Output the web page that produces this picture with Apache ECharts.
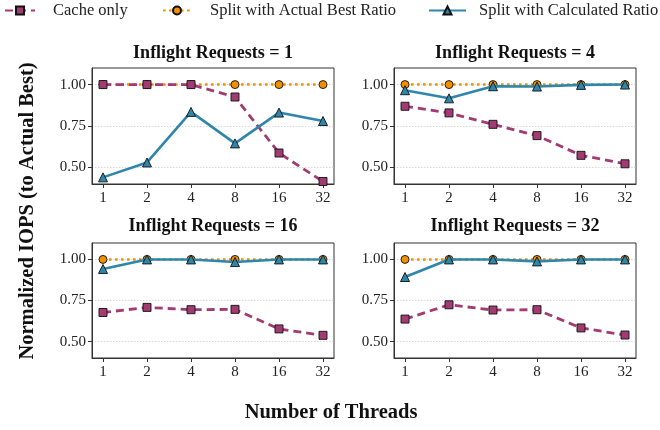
<!DOCTYPE html>
<html>
<head>
<meta charset="utf-8">
<script src="https://cdn.jsdelivr.net/npm/echarts@6/dist/echarts.min.js"></script>
<style>html,body{margin:0;padding:0;background:#fff}#c{width:660px;height:430px}</style>
</head>
<body>
<div id="c"></div>
<script>
var threads = ['1', '2', '4', '8', '16', '32'];
var yTicks = [0.5, 0.75, 1.0];
var panelTitles = ['Inflight Requests = 1', 'Inflight Requests = 4', 'Inflight Requests = 16', 'Inflight Requests = 32'];
var seriesNames = ['Cache only', 'Split with Actual Best Ratio', 'Split with Calculated Ratio'];

var cacheIR1  = [1.0, 1.0, 1.0, 0.925, 0.587, 0.415];
var actualIR1 = [1.0, 1.0, 1.0, 1.0, 1.0, 1.0];
var calcIR1   = [0.44, 0.53, 0.835, 0.645, 0.831, 0.78];

var cacheIR4  = [0.869, 0.829, 0.760, 0.692, 0.573, 0.522];
var actualIR4 = [1.0, 1.0, 1.0, 1.0, 1.0, 1.0];
var calcIR4   = [0.966, 0.917, 0.99, 0.988, 0.998, 1.0];

var cacheIR16  = [0.677, 0.708, 0.694, 0.696, 0.577, 0.538];
var actualIR16 = [1.0, 1.0, 1.0, 1.0, 1.0, 1.0];
var calcIR16   = [0.942, 1.0, 1.0, 0.984, 1.0, 1.0];

var cacheIR32  = [0.637, 0.724, 0.692, 0.694, 0.583, 0.540];
var actualIR32 = [1.0, 1.0, 1.0, 1.0, 1.0, 1.0];
var calcIR32   = [0.893, 1.0, 1.0, 0.988, 1.0, 1.0];

var panels = [
  [cacheIR1, actualIR1, calcIR1],
  [cacheIR4, actualIR4, calcIR4],
  [cacheIR16, actualIR16, calcIR16],
  [cacheIR32, actualIR32, calcIR32]
];

var FONT = '"Liberation Serif", "Times New Roman", serif';
var colors = ['#A23B72', '#F18F01', '#2E86AB'];
var grids = [
  {left: 92, top: 68, width: 242, height: 116},
  {left: 394, top: 68, width: 242, height: 116},
  {left: 92, top: 243, width: 242, height: 115},
  {left: 394, top: 243, width: 242, height: 115}
];
var titleY = [44, 44, 217, 217];

function pairs(arr) { return arr.map(function (v, i) { return [i, v]; }); }

var option = {
  backgroundColor: '#fff',
  animation: false,
  textStyle: {fontFamily: FONT},
  title: [],
  grid: [],
  xAxis: [],
  yAxis: [],
  series: [],
  legend: []
};

grids.forEach(function (g, p) {
  option.grid.push({left: g.left, top: g.top, width: g.width, height: g.height, show: true, borderColor: '#333', borderWidth: 1, backgroundColor: 'transparent'});
  option.title.push({
    text: panelTitles[p], left: g.left + g.width / 2, top: titleY[p], textAlign: 'center', padding: 0,
    textStyle: {fontFamily: FONT, fontWeight: 'bold', fontSize: 18, color: '#111'}
  });
  option.xAxis.push({
    type: 'value', gridIndex: p, min: -0.25, max: 5.25,
    axisLine: {show: true, onZero: false, lineStyle: {color: '#333', width: 1}},
    axisTick: {show: true, customValues: [0, 1, 2, 3, 4, 5], length: 4, lineStyle: {color: '#333'}},
    axisLabel: {customValues: [0, 1, 2, 3, 4, 5], formatter: function (v) { return threads[Math.round(v)]; }, fontFamily: FONT, fontSize: 15, color: '#222', margin: 7},
    splitLine: {show: false}
  });
  option.yAxis.push({
    type: 'value', gridIndex: p, min: 0.4, max: 1.1,
    axisLine: {show: true, onZero: false, lineStyle: {color: '#333', width: 1}},
    axisTick: {show: true, customValues: yTicks, length: 4, lineStyle: {color: '#333'}},
    axisLabel: {customValues: yTicks, formatter: function (v) { return v.toFixed(2); }, fontFamily: FONT, fontSize: 15, color: '#222', margin: 6},
    splitLine: {show: true, lineStyle: {color: '#cfcfcf', type: [1.5, 1.5], width: 0.8}}
  });
  var d = panels[p];
  option.series.push({
    name: seriesNames[1], type: 'line', xAxisIndex: p, yAxisIndex: p, z: 2,
    data: pairs(d[1]), symbol: 'circle', symbolSize: 8,
    lineStyle: {color: colors[1], width: 2.6, type: [2.6, 3.4]},
    itemStyle: {color: colors[1], borderColor: '#111', borderWidth: 0.9}
  });
  option.series.push({
    name: seriesNames[0], type: 'line', xAxisIndex: p, yAxisIndex: p, z: 3,
    data: pairs(d[0]), symbol: 'rect', symbolSize: 8,
    lineStyle: {color: colors[0], width: 2.8, type: [8, 5]},
    itemStyle: {color: colors[0], borderColor: '#111', borderWidth: 0.9}
  });
  option.series.push({
    name: seriesNames[2], type: 'line', xAxisIndex: p, yAxisIndex: p, z: 4,
    data: pairs(d[2]), symbol: 'triangle', symbolSize: 9,
    lineStyle: {color: colors[2], width: 2.6},
    itemStyle: {color: colors[2], borderColor: '#111', borderWidth: 0.9}
  });
});

var legendPos = [
  {left: 4, w: 30, pad: 13},
  {left: 162, w: 28, pad: 14},
  {left: 428, w: 37, pad: 8}
];
seriesNames.forEach(function (n, i) {
  option.legend.push({
    data: [n], left: legendPos[i].left, top: 2, padding: 0, itemWidth: legendPos[i].w, itemHeight: 10,
    textStyle: {fontFamily: FONT, fontSize: 16.5, color: '#222', padding: [0, 0, 0, legendPos[i].pad]},
    selectedMode: false
  });
});

option.graphic = [
  {type: 'text', x: 331, y: 413, style: {text: 'Number of Threads', font: 'bold 20.5px ' + FONT, fill: '#111', align: 'center', verticalAlign: 'middle'}},
  {type: 'text', x: 28, y: 211, rotation: Math.PI / 2, style: {text: 'Normalized IOPS (to Actual Best)', font: 'bold 20.5px ' + FONT, fill: '#111', align: 'center', verticalAlign: 'middle'}}
];

var chart = echarts.init(document.getElementById('c'), null, {renderer: 'canvas'});
chart.setOption(option);
</script>
</body>
</html>
